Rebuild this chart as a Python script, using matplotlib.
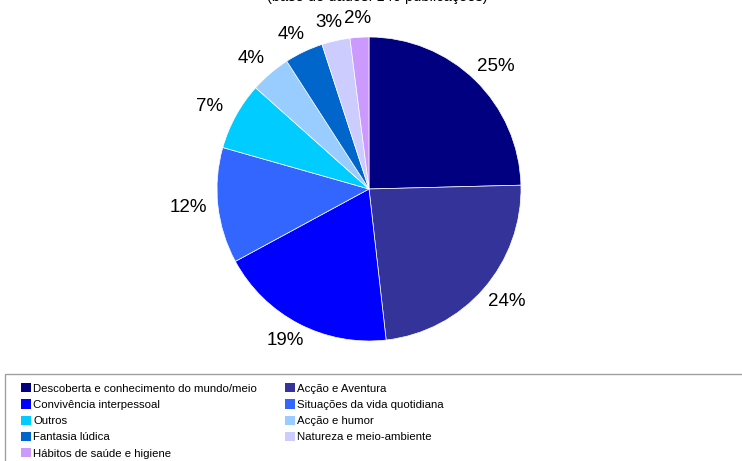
import matplotlib

matplotlib.use("Agg")
import matplotlib.pyplot as plt
import numpy as np
from matplotlib.patches import Patch, Rectangle

plt.rcParams["font.family"] = ["Liberation Sans", "DejaVu Sans"]

categories = [
    "Descoberta e conhecimento do mundo/meio",
    "Acção e Aventura",
    "Convivência interpessoal",
    "Situações da vida quotidiana",
    "Outros",
    "Acção e humor",
    "Fantasia lúdica",
    "Natureza e meio-ambiente",
    "Hábitos de saúde e higiene",
]
values = [24.6, 23.6, 18.9, 12.3, 7.2, 4.3, 4.1, 3.0, 2.0]
colors = ["#000080", "#333399", "#0000FF", "#3366FF", "#00CCFF",
          "#99CCFF", "#0066CC", "#CCCCFF", "#CC99FF"]

W, H = 742, 461
fig = plt.figure(figsize=(W / 100, H / 100), dpi=100)

# pie centre (369, 189) px, radius 152 px
cx, cy, r = 369, 189, 152
ax = fig.add_axes([(cx - r) / W, (H - cy - r) / H, 2 * r / W, 2 * r / H])
wedges, _ = ax.pie(
    values, colors=colors, startangle=90, counterclock=False,
    wedgeprops=dict(edgecolor="white", linewidth=0.5),
)
ax.set_xlim(-1, 1)
ax.set_ylim(-1, 1)
ax.set_aspect("equal")
ax.axis("off")

# percentage labels just outside the rim
total = sum(values)
px = 1.0 / r  # one pixel in data units
for w, v in zip(wedges, values):
    th = np.deg2rad((w.theta1 + w.theta2) / 2)
    c, s = np.cos(th), np.sin(th)
    d = 1 + 12 * px
    ax.text(d * c + 18 * px * c, d * s + 7 * px * s, f"{100 * v / total:.0f}%",
            ha="center", va="center", fontsize=13.5, clip_on=False)

# title, mostly cut off by the top edge
fig.text(377 / W, 1 + 3 / H, "(base de dados: 146 publicações)", ha="center",
         va="center", fontsize=10.5)

# legend frame
fig.patches.append(Rectangle((5 / W, -0.05), 1.0, (H - 374) / H + 0.05,
                             transform=fig.transFigure, fill=False,
                             edgecolor="#A0A0A0", linewidth=1.0))

handles = [Patch(facecolor=c, edgecolor="none") for c in colors]
leg_kw = dict(loc="upper left", frameon=False, prop=dict(size=8.2),
              handlelength=0.88, handleheight=0.88, handletextpad=0.18,
              labelspacing=0.5, borderpad=0, borderaxespad=0)
col1 = [0, 2, 4, 6, 8]
col2 = [1, 3, 5, 7]
fig.legend([handles[i] for i in col1], [categories[i] for i in col1],
           bbox_to_anchor=(21 / W, 1 - 383 / H), **leg_kw)
fig.legend([handles[i] for i in col2], [categories[i] for i in col2],
           bbox_to_anchor=(285 / W, 1 - 383 / H), **leg_kw)

fig.savefig("out.png", dpi=100)
